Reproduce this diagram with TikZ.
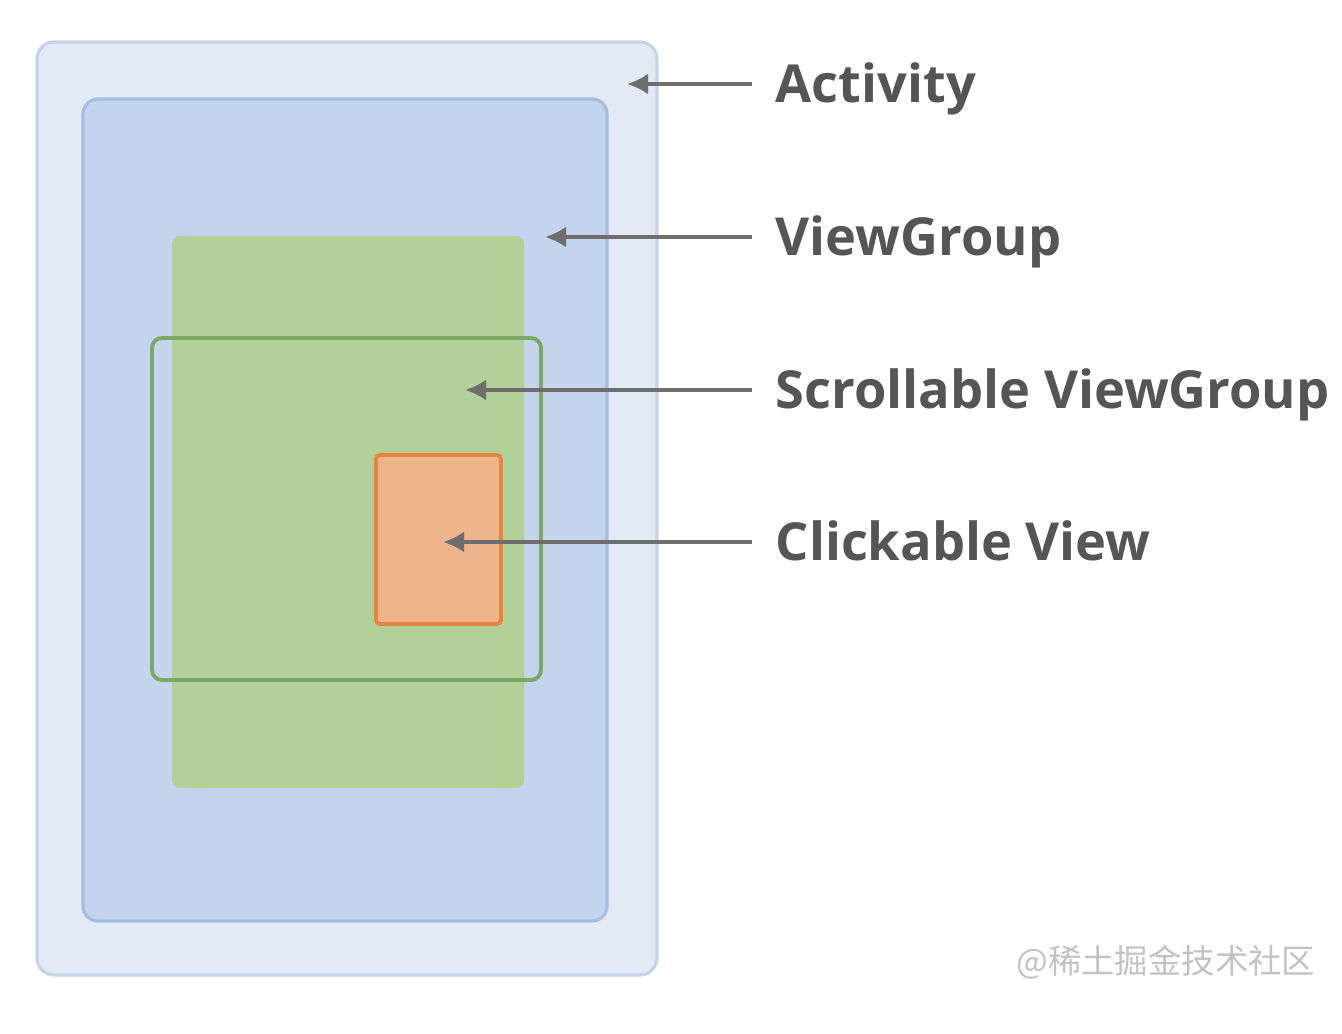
\documentclass[tikz,border=0pt]{standalone}
\usepackage{fontspec}
\setmainfont{Open Sans}
\newfontfamily\cjkfont{Noto Sans CJK SC}
\usetikzlibrary{arrows.meta}
\definecolor{actfill}{HTML}{E1EAF5}
\definecolor{actline}{HTML}{C3D3EA}
\definecolor{vgfill}{HTML}{C2D5EC}
\definecolor{vgline}{HTML}{A3BEE0}
\definecolor{greenfill}{HTML}{B1D198}
\definecolor{scrollline}{HTML}{7BA862}
\definecolor{viewfill}{HTML}{EEB48B}
\definecolor{viewline}{HTML}{E8843F}
\definecolor{arrowgrey}{HTML}{6E6E6E}
\definecolor{labelgrey}{HTML}{555555}
\definecolor{markgrey}{HTML}{C2C2C2}
\tikzset{
  lbl/.style={anchor=west, inner xsep=0.23cm, inner ysep=0pt, text height=0.37cm, text depth=0pt,
    font=\fontsize{14.9}{17}\selectfont\bfseries, text=labelgrey},
  arr/.style={draw=arrowgrey, line width=1.4pt, -{Latex[length=2.1mm,width=2.1mm]}}
}
\begin{document}
\begin{tikzpicture}[x=0.01cm,y=-0.01cm]
\useasboundingbox (0,0) rectangle (1342,1034);
% the nested boxes
\draw[fill=actfill, draw=actline, line width=0.9pt, rounded corners=0.17cm] (37,42) rectangle (657,975);
\draw[fill=vgfill, draw=vgline, line width=0.9pt, rounded corners=0.15cm] (83,99) rectangle (607,921);
\fill[greenfill, rounded corners=0.08cm] (172,236) rectangle (524,788);
\draw[scrollline, line width=1.1pt, rounded corners=0.1cm] (152,338) rectangle (541,680);
\draw[fill=viewfill, draw=viewline, line width=1.1pt, rounded corners=0.04cm] (376,455) rectangle (501,624);
% arrow tips
\coordinate (activity) at (627,84);
\coordinate (viewgroup) at (545,237);
\coordinate (scroll) at (465,390);
\coordinate (click) at (443,542);
% labels
\node[lbl] (lact) at (752,84) {Activity};
\node[lbl] (lvg) at (752,237) {ViewGroup};
\node[lbl] (lscroll) at (752,390) {Scrollable ViewGroup};
\node[lbl] (lclick) at (752,542) {Clickable View};
\draw[arr] (lact.west) -- (activity);
\draw[arr] (lvg.west) -- (viewgroup);
\draw[arr] (lscroll.west) -- (scroll);
\draw[arr] (lclick.west) -- (click);
\node[anchor=east, inner sep=0pt, text=markgrey, font=\cjkfont\fontsize{9.5}{11}\selectfont] (mark) at (1316,962) {@稀土掘金技术社区};
\end{tikzpicture}
\end{document}
